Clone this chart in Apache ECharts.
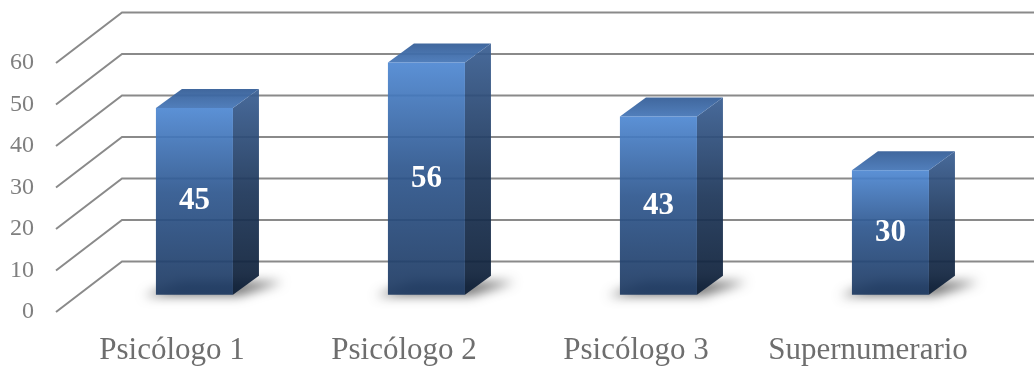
<!DOCTYPE html>
<html>
<head>
<meta charset="utf-8">
<script src="https://cdn.jsdelivr.net/npm/echarts@6.0.0/dist/echarts.min.js"></script>
<style>
  html, body { margin: 0; padding: 0; background: #ffffff; }
  #chart { width: 1034px; height: 366px; }
</style>
</head>
<body>
<div id="chart"></div>
<script>
// Chart data
const categories = ['Psicólogo 1', 'Psicólogo 2', 'Psicólogo 3', 'Supernumerario'];
const values = [45, 56, 43, 30];
const yTicks = [0, 10, 20, 30, 40, 50, 60];

// Perspective of the 3D box: offset from the front plane to the back wall
const DEPTH_X = 66;
const DEPTH_Y = -50.5;
// Bars sit partway into the box and have their own depth
const BAR_FRONT = 0.34;
const BAR_DEPTH_X = 26;
const BAR_DEPTH_Y = -19;
const BAR_WIDTH_RATIO = 0.332;

const SERIF = '"Liberation Serif", "Times New Roman", serif';
const GRID_COLOR = '#8a8a8a';

const chart = echarts.init(document.getElementById('chart'), null, { renderer: 'canvas' });

function renderGridLine(params, api) {
  const cs = params.coordSys;
  const y = api.coord([0, api.value(1)])[1];
  return {
    type: 'polyline',
    silent: true,
    shape: {
      points: [
        [cs.x, y],
        [cs.x + DEPTH_X, y + DEPTH_Y],
        [cs.x + cs.width + DEPTH_X + 40, y + DEPTH_Y]
      ]
    },
    style: { stroke: GRID_COLOR, lineWidth: 2, fill: 'none' }
  };
}

function renderBar(params, api) {
  const i = api.value(0);
  const v = api.value(1);
  const base = api.coord([i, 0]);
  const top = api.coord([i, v]);
  const w = api.size([1, 0])[0] * BAR_WIDTH_RATIO;
  const ox = BAR_FRONT * DEPTH_X;
  const oy = BAR_FRONT * DEPTH_Y;
  const xl = base[0] + ox - w / 2;
  const xr = xl + w;
  const yb = base[1] + oy;
  const yt = top[1] + oy;
  const bx = BAR_DEPTH_X, by = BAR_DEPTH_Y;
  const FAR = 3000;

  return {
    type: 'group',
    children: [
      // soft floor shadow (shape drawn off-canvas, only its blurred shadow lands on the floor)
      {
        type: 'polygon',
        silent: true,
        shape: {
          points: [
            [xl - 12 - FAR, yb + 1],
            [xr + 6 - FAR, yb + 1],
            [xr + bx + 24 - FAR, yb + by + 6],
            [xl + bx - FAR, yb + by + 6]
          ]
        },
        style: {
          fill: '#000',
          shadowBlur: 11,
          shadowColor: 'rgba(0,0,0,0.55)',
          shadowOffsetX: FAR,
          shadowOffsetY: 0
        }
      },
      // right side face
      {
        type: 'polygon',
        silent: true,
        shape: { points: [[xr, yt], [xr + bx, yt + by], [xr + bx, yb + by], [xr, yb]] },
        style: {
          opacity: 0.93,
          fill: new echarts.graphic.LinearGradient(0, 0, 0, 1, [
            { offset: 0, color: '#3a5f93' },
            { offset: 0.5, color: '#1d3659' },
            { offset: 1, color: '#0c1d35' }
          ])
        }
      },
      // top face
      {
        type: 'polygon',
        silent: true,
        shape: { points: [[xl, yt], [xr, yt], [xr + bx, yt + by], [xl + bx, yt + by]] },
        style: {
          opacity: 0.95,
          fill: new echarts.graphic.LinearGradient(0, 1, 0, 0, [
            { offset: 0, color: '#4878b8' },
            { offset: 1, color: '#365f98' }
          ])
        }
      },
      // front face
      {
        type: 'rect',
        silent: true,
        shape: { x: xl, y: yt, width: w, height: yb - yt },
        style: {
          opacity: 0.92,
          fill: new echarts.graphic.LinearGradient(0, 0, 0, 1, [
            { offset: 0, color: '#4d87d2' },
            { offset: 0.45, color: '#2d568e' },
            { offset: 1, color: '#1c3860' }
          ])
        }
      },
      // value label
      {
        type: 'text',
        silent: true,
        x: xl + w / 2,
        y: (yt + yb) / 2,
        style: {
          text: String(v),
          fill: '#ffffff',
          font: 'bold 31px ' + SERIF,
          align: 'center',
          verticalAlign: 'middle'
        }
      }
    ]
  };
}

chart.setOption({
  animation: false,
  backgroundColor: '#ffffff',
  grid: { left: 56, right: 50, top: 63, bottom: 54, containLabel: false },
  xAxis: {
    type: 'category',
    data: categories,
    axisLine: { show: false },
    axisTick: { show: false },
    splitLine: { show: false },
    axisLabel: {
      margin: 23,
      fontSize: 31,
      fontFamily: SERIF,
      color: '#6e6e6e',
      interval: 0
    }
  },
  yAxis: {
    type: 'value',
    min: 0,
    max: 60,
    interval: 10,
    axisLine: { show: false },
    axisTick: { show: false },
    splitLine: { show: false },
    axisLabel: {
      margin: 22,
      fontSize: 24,
      fontFamily: SERIF,
      color: '#7f7f7f'
    }
  },
  series: [
    {
      type: 'custom',
      name: 'grid',
      clip: false,
      silent: true,
      z: 1,
      data: yTicks.map(function (t) { return [0, t]; }),
      renderItem: renderGridLine
    },
    {
      type: 'custom',
      name: 'bars',
      clip: false,
      silent: true,
      z: 2,
      data: values.map(function (v, i) { return [i, v]; }),
      renderItem: renderBar
    }
  ]
});
</script>
</body>
</html>
